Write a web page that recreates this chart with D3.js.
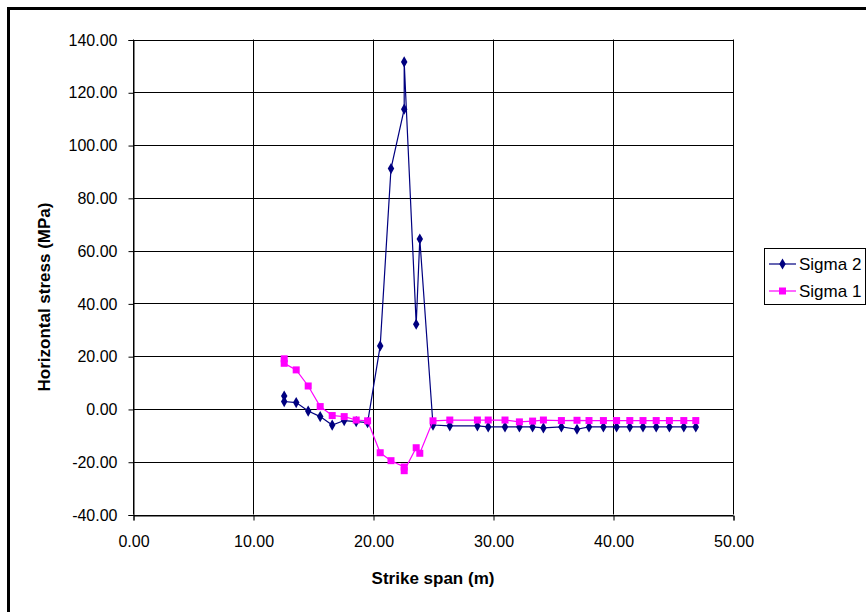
<!DOCTYPE html>
<html>
<head>
<meta charset="utf-8">
<script src="https://cdn.jsdelivr.net/npm/d3@7"></script>
<style>
  html, body { margin: 0; padding: 0; background: #fff; }
  svg { display: block; font-family: "Liberation Sans", Arial, sans-serif; }
</style>
</head>
<body>
<svg id="chart" width="866" height="612"></svg>
<script>
// Strike span positions (m), shared by both series
const span = [12.6, 12.6, 13.6, 14.6, 15.6, 16.6, 17.6, 18.6, 19.55, 20.6, 21.5, 22.6, 22.6, 23.6, 23.9,
  25.0, 26.4, 28.7, 29.6, 31.0, 32.2, 33.3, 34.2, 35.7, 37.0, 38.0, 39.2, 40.3, 41.4, 42.5, 43.6, 44.7, 45.9, 46.9];

// Horizontal stress (MPa)
const sigma2 = [4.9, 2.8, 2.4, -0.8, -2.9, -6.1, -4.4, -4.8, -5.2, 23.9, 91.1, 113.6, 131.5, 32.1, 64.4,
  -6.1, -6.4, -6.4, -6.8, -6.8, -6.8, -6.8, -7.2, -6.8, -7.7, -6.8, -6.8, -6.8, -6.8, -6.8, -6.8, -6.8, -6.8, -6.8];
const sigma1 = [19.0, 17.3, 14.8, 8.7, 0.9, -2.5, -2.9, -4.2, -4.5, -16.6, -19.6, -22.0, -23.4, -14.7, -16.8,
  -4.5, -4.2, -4.2, -4.2, -4.2, -4.9, -4.6, -4.2, -4.4, -4.3, -4.4, -4.4, -4.4, -4.4, -4.4, -4.4, -4.4, -4.4, -4.4];

const xTicks = [0, 10, 20, 30, 40, 50];
const yTicks = [-40, -20, 0, 20, 40, 60, 80, 100, 120, 140];

const seriesNames = ["Sigma 2", "Sigma 1"];
const seriesColors = ["#000080", "#FF00FF"];

const svg = d3.select("#chart");
const FONT = "'Liberation Sans', Arial, sans-serif";

// outer frame
svg.append("rect")
  .attr("x", 8.5).attr("y", 8.5)
  .attr("width", 900).attr("height", 700)
  .attr("fill", "none").attr("stroke", "#000").attr("stroke-width", 3);

const plot = { left: 133, top: 39.5, right: 733, bottom: 514.5 };

const x = d3.scaleLinear().domain([0, 50]).range([plot.left, plot.right]);
const y = d3.scaleLinear().domain([-40, 140]).range([plot.bottom, plot.top]);

// two decimals, plain hyphen for negatives
const fmt = v => d3.format(".2f")(v).replace("\u2212", "-");

// gridlines
const grid = svg.append("g");
grid.selectAll("line.h").data(yTicks).join("line")
  .attr("x1", plot.left).attr("x2", plot.right)
  .attr("y1", d => Math.round(y(d)) + 0.5).attr("y2", d => Math.round(y(d)) + 0.5)
  .attr("stroke", "#000").attr("stroke-width", 1);
grid.selectAll("line.v").data(xTicks).join("line")
  .attr("y1", plot.top).attr("y2", plot.bottom)
  .attr("x1", d => Math.round(x(d)) + 0.5).attr("x2", d => Math.round(x(d)) + 0.5)
  .attr("stroke", "#000").attr("stroke-width", 1);

// axes
const xAxis = d3.axisBottom(x).tickValues(xTicks).tickFormat(fmt).tickSize(5).tickPadding(15);
const yAxis = d3.axisLeft(y).tickValues(yTicks).tickFormat(fmt).tickSize(5).tickPadding(11);

const gx = svg.append("g").attr("transform", `translate(0.5,${Math.round(plot.bottom) + 0.5})`).call(xAxis);
const gy = svg.append("g").attr("transform", `translate(${plot.left + 0.5},0.5)`).call(yAxis);
[gx, gy].forEach(g => {
  g.select(".domain").attr("stroke", "#000");
  g.selectAll(".tick line").attr("stroke", "#000");
  g.selectAll("text").attr("fill", "#000").attr("font-size", 16)
    .attr("font-family", FONT);
});

// axis titles
svg.append("text")
  .attr("x", 433).attr("y", 584)
  .attr("text-anchor", "middle")
  .attr("font-size", 17).attr("font-weight", "bold").attr("font-family", FONT)
  .text("Strike span (m)");
svg.append("text")
  .attr("transform", "translate(50,297) rotate(-90)")
  .attr("text-anchor", "middle")
  .attr("font-size", 17).attr("font-weight", "bold").attr("font-family", FONT)
  .text("Horizontal stress (MPa)");

// series
const line = d3.line().x(d => x(d[0])).y(d => y(d[1]));
const diamond = d3.symbol().type(d3.symbolDiamond).size(36);

const s2 = span.map((v, i) => [v, sigma2[i]]);
const s1 = span.map((v, i) => [v, sigma1[i]]);

function drawSeries(data, color, marker) {
  const g = svg.append("g");
  g.append("path").datum(data)
    .attr("d", line).attr("fill", "none")
    .attr("stroke", color).attr("stroke-width", 1.2);
  if (marker === "diamond") {
    g.selectAll("path.m").data(data).join("path")
      .attr("transform", d => `translate(${x(d[0])},${y(d[1])})`)
      .attr("d", diamond).attr("fill", color);
  } else {
    g.selectAll("rect.m").data(data).join("rect")
      .attr("x", d => x(d[0]) - 3.5).attr("y", d => y(d[1]) - 3.5)
      .attr("width", 7).attr("height", 7).attr("fill", color);
  }
}
drawSeries(s2, seriesColors[0], "diamond");
drawSeries(s1, seriesColors[1], "square");

// legend
const lg = svg.append("g");
lg.append("rect")
  .attr("x", 764.5).attr("y", 248.5).attr("width", 101).attr("height", 56)
  .attr("fill", "#fff").attr("stroke", "#000").attr("stroke-width", 1);
seriesNames.forEach((name, i) => {
  const ly = 264 + i * 27;
  lg.append("line").attr("x1", 769).attr("x2", 796).attr("y1", ly).attr("y2", ly)
    .attr("stroke", seriesColors[i]).attr("stroke-width", 1.2);
  if (i === 0) {
    lg.append("path").attr("transform", `translate(782.5,${ly})`).attr("d", diamond).attr("fill", seriesColors[i]);
  } else {
    lg.append("rect").attr("x", 779).attr("y", ly - 3.5).attr("width", 7).attr("height", 7).attr("fill", seriesColors[i]);
  }
  lg.append("text").attr("x", 799).attr("y", ly + 6)
    .attr("font-size", 17).attr("font-family", FONT).text(name);
});
</script>
</body>
</html>
